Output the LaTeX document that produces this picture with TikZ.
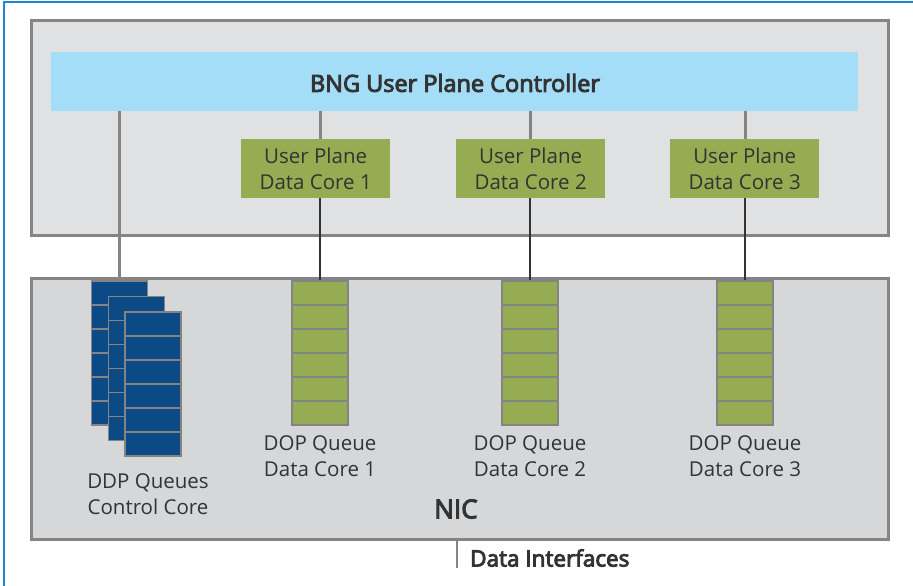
\documentclass[tikz,border=0pt]{standalone}
\usepackage{fontspec}
\setmainfont{Open Sans}
\newfontfamily\medfont{Open Sans}[FakeBold=4]
\definecolor{frameblue}{HTML}{1E88D0}
\definecolor{boxtop}{HTML}{E0E1E3}
\definecolor{boxbot}{HTML}{D6D7D9}
\definecolor{boxline}{HTML}{848484}
\definecolor{barblue}{HTML}{A4DDF7}
\definecolor{coregreen}{HTML}{95AC52}
\definecolor{ddpblue}{HTML}{0C4A85}
\definecolor{txt}{HTML}{333333}
\tikzset{
  panel/.style={draw=boxline,line width=3pt},
  corebox/.style={fill=coregreen,minimum width=149pt,minimum height=59pt,inner sep=0pt,text=txt,align=center,font=\fontsize{20.5}{26}\selectfont},
  qcell/.style={draw=boxline,line width=1.5pt,fill=coregreen,minimum width=56pt,minimum height=24pt,inner sep=0pt,anchor=north},
  dcell/.style={draw=boxline,line width=1.5pt,fill=ddpblue,minimum width=56pt,minimum height=24pt,inner sep=0pt,anchor=north},
  lbl/.style={text=txt,align=center,font=\fontsize{20.5}{26}\selectfont},
  glink/.style={draw=boxline,line width=3pt},
  blink/.style={draw=txt,line width=2.5pt},
}
\begin{document}
\begin{tikzpicture}[x=1pt,y=-1pt]
\useasboundingbox (0,0) rectangle (913,586);
\fill[white] (0,0) rectangle (913,586);
% frame
\draw[frameblue,line width=1.5pt] (4,586) -- (4,2) -- (913,2);
% panels
\node[panel,fill=boxtop,minimum width=857pt,minimum height=215pt,inner sep=0pt,anchor=north west] (upper) at (30,19) {};
\node[panel,fill=boxbot,minimum width=857pt,minimum height=261pt,inner sep=0pt,anchor=north west] (nic) at (30,277) {};
% controller bar
\node[fill=barblue,minimum width=807pt,minimum height=59pt,inner sep=0pt,anchor=north west] (ctrl) at (51,52) {};
\node[text=txt,font=\fontsize{23.5}{26}\medfont] (ctrltxt) at (455,83) {BNG User Plane Controller};
% core boxes
\node[corebox,anchor=north west] (up1) at (241,139) {User Plane\\Data Core 1};
\node[corebox,anchor=north west] (up2) at (456,139) {User Plane\\Data Core 2};
\node[corebox,anchor=north west] (up3) at (670,139) {User Plane\\Data Core 3};
% DOP queues
\foreach \q/\x in {1/320,2/530,3/745}{
  \foreach \i in {1,...,6}{
    \node[qcell] (q\q c\i) at (\x,{280+24*(\i-1)}) {};
  }
}
% DDP stacks
\foreach \s/\x/\y in {1/119.5/280,2/136.5/295.5,3/153/311}{
  \foreach \i in {1,...,6}{
    \node[dcell] (d\s c\i) at (\x,{\y+24*(\i-1)}) {};
  }
}
% links
\coordinate (b0) at (119.5,111);
\draw[glink] (b0) -- (d1c1.north);
\draw[glink] (ctrl.south -| q1c1.north) -- (up1.north -| q1c1.north);
\draw[glink] (ctrl.south -| q2c1.north) -- (up2.north -| q2c1.north);
\draw[glink] (ctrl.south -| q3c1.north) -- (up3.north -| q3c1.north);
\draw[blink] (up1.south -| q1c1.north) -- (q1c1.north);
\draw[blink] (up2.south -| q2c1.north) -- (q2c1.north);
\draw[blink] (up3.south -| q3c1.north) -- (q3c1.north);
% labels
\node[lbl] (l1) at (320,456) {DOP Queue\\Data Core 1};
\node[lbl] (l2) at (530,456) {DOP Queue\\Data Core 2};
\node[lbl] (l3) at (745,456) {DOP Queue\\Data Core 3};
\node[lbl] (l0) at (148,494) {DDP Queues\\Control Core};
\node[text=txt,font=\fontsize{26}{28}\medfont] (niclbl) at (456,509) {NIC};
% data interfaces
\coordinate (di) at (457,568);
\draw[boxline,line width=2pt] (nic.south -| di) -- (di);
\node[text=txt,anchor=west,font=\fontsize{22.5}{24}\medfont,inner sep=0pt] (ditxt) at (470,558) {Data Interfaces};
\end{tikzpicture}
\end{document}
